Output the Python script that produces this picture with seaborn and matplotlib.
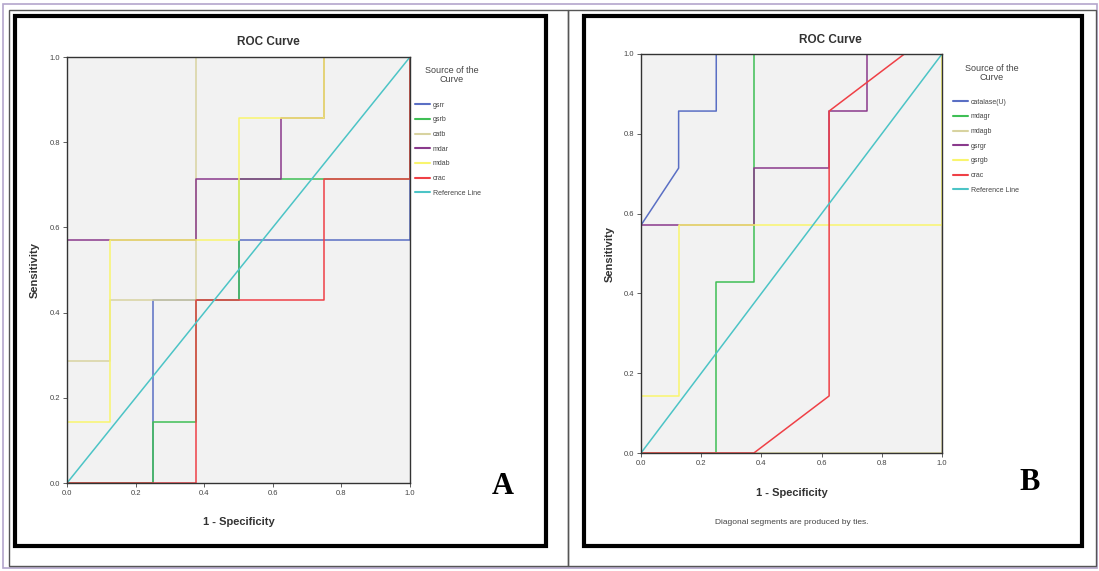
import numpy as np
import pandas as pd
import matplotlib
matplotlib.use("Agg")
import matplotlib.pyplot as plt
from matplotlib.patches import Rectangle
from matplotlib.lines import Line2D
import seaborn as sns

# Panel A: ROC curves (1 - specificity, sensitivity)
curves_a = ["gsrr", "gsrb", "catb", "mdar", "mdab", "crac"]
fpr_a = {
    "gsrr": [0, 0.25, 0.25, 0.5, 0.5, 1.0, 1.0],
    "gsrb": [0, 0.25, 0.25, 0.375, 0.375, 0.5, 0.5, 1.0, 1.0],
    "catb": [0, 0, 0.125, 0.125, 0.375, 0.375, 1.0],
    "mdar": [0, 0, 0.375, 0.375, 0.625, 0.625, 0.75, 0.75, 1.0],
    "mdab": [0, 0, 0.125, 0.125, 0.5, 0.5, 0.75, 0.75, 1.0],
    "crac": [0, 0.375, 0.375, 0.75, 0.75, 1.0, 1.0],
}
tpr_a = {
    "gsrr": [0, 0, 0.429, 0.429, 0.571, 0.571, 1.0],
    "gsrb": [0, 0, 0.143, 0.143, 0.429, 0.429, 0.714, 0.714, 1.0],
    "catb": [0, 0.286, 0.286, 0.429, 0.429, 1.0, 1.0],
    "mdar": [0, 0.571, 0.571, 0.714, 0.714, 0.857, 0.857, 1.0, 1.0],
    "mdab": [0, 0.143, 0.143, 0.571, 0.571, 0.857, 0.857, 1.0, 1.0],
    "crac": [0, 0, 0.429, 0.429, 0.714, 0.714, 1.0],
}

# Panel B
curves_b = ["catalase(U)", "mdagr", "mdagb", "gsrgr", "gsrgb", "crac"]
fpr_b = {
    "catalase(U)": [0, 0, 0.125, 0.125, 0.25, 0.25, 1.0],
    "mdagr": [0, 0.25, 0.25, 0.375, 0.375, 1.0],
    "mdagb": [0, 1.0, 1.0],
    "gsrgr": [0, 0, 0.375, 0.375, 0.625, 0.625, 0.75, 0.75, 1.0],
    "gsrgb": [0, 0, 0.125, 0.125, 1.0, 1.0],
    "crac": [0, 0.375, 0.625, 0.625, 0.875, 1.0],
}
tpr_b = {
    "catalase(U)": [0, 0.571, 0.714, 0.857, 0.857, 1.0, 1.0],
    "mdagr": [0, 0, 0.429, 0.429, 1.0, 1.0],
    "mdagb": [0, 0, 1.0],
    "gsrgr": [0, 0.571, 0.571, 0.714, 0.714, 0.857, 0.857, 1.0, 1.0],
    "gsrgb": [0, 0.143, 0.143, 0.571, 0.571, 1.0],
    "crac": [0, 0, 0.143, 0.857, 1.0, 1.0],
}

ref_name = "Reference Line"
ref_x = [0, 1]
ref_y = [0, 1]

spss_colors = ["#5a6fc4", "#3fbf55", "#d8d3a0", "#8a3a8c", "#f9f56e", "#ef4046", "#4cc4c6"]


def long_table(names, fpr, tpr):
    rows = []
    for n in names:
        for i, (x, y) in enumerate(zip(fpr[n], tpr[n])):
            rows.append((n, i, x, y))
    for i, (x, y) in enumerate(zip(ref_x, ref_y)):
        rows.append((ref_name, i, x, y))
    return pd.DataFrame(rows, columns=["curve", "order", "fpr", "tpr"])


sns.set_theme(style="white")
plt.rcParams["font.family"] = ["Liberation Sans", "DejaVu Sans"]

fig = plt.figure(figsize=(10.99, 5.71), dpi=100)
W, H = 1099, 571


def fig_rect(x0, y0, x1, y1, **kw):
    # pixel box (top-left origin) to figure rectangle
    fig.add_artist(Rectangle((x0 / W, 1 - y1 / H), (x1 - x0) / W, (y1 - y0) / H,
                             transform=fig.transFigure, fill=False, **kw))


# outer table lines
fig_rect(3, 4, 1097, 568, edgecolor="#b4a6cc", linewidth=1.2)
fig_rect(9, 10, 568, 566, edgecolor="#555555", linewidth=1.0)
fig_rect(568, 10, 1096, 566, edgecolor="#555555", linewidth=1.0)
fig_rect(15, 16, 546, 546, edgecolor="black", linewidth=3.0)
fig_rect(584, 16, 1082, 546, edgecolor="black", linewidth=3.0)


def draw_panel(box, names, fpr, tpr, title_x, title_y, leg_title_xy, legend_xy,
               xlabel_y, ylabel_x, letter, letter_xy):
    x0, y0, x1, y1 = box
    ax = fig.add_axes([x0 / W, 1 - y1 / H, (x1 - x0) / W, (y1 - y0) / H])
    df = long_table(names, fpr, tpr)
    order = names + [ref_name]
    sns.lineplot(data=df, x="fpr", y="tpr", hue="curve", hue_order=order,
                 palette=spss_colors, sort=False, estimator=None, units="curve",
                 linewidth=1.1, ax=ax, legend=False)
    ax.set_facecolor("#f2f2f2")
    ax.set_xlim(0, 1)
    ax.set_ylim(0, 1)
    ticks = [0.0, 0.2, 0.4, 0.6, 0.8, 1.0]
    ax.set_xticks(ticks)
    ax.set_yticks(ticks)
    ax.set_xticklabels([f"{t:.1f}" for t in ticks], fontsize=5.5, color="#444444")
    ax.set_yticklabels([f"{t:.1f}" for t in ticks], fontsize=5.5, color="#444444")
    ax.tick_params(length=3, width=0.6, pad=2, bottom=True, left=True, color="#444444")
    for s in ax.spines.values():
        s.set_color("#333333")
        s.set_linewidth(1.0)
    ax.set_xlabel("")
    ax.set_ylabel("")
    cx = (x0 + x1) / 2 / W
    fig.text(title_x / W, 1 - title_y / H, "ROC Curve", ha="center", va="center",
             fontsize=8.5, fontweight="bold", color="#333333")
    fig.text(cx, 1 - xlabel_y / H, "1 - Specificity", ha="center", va="center",
             fontsize=8, fontweight="bold", color="#333333")
    fig.text(ylabel_x / W, 1 - (y0 + y1) / 2 / H, "Sensitivity", ha="center", va="center",
             rotation=90, fontsize=8, fontweight="bold", color="#333333")
    fig.text(leg_title_xy[0] / W, 1 - leg_title_xy[1] / H, "Source of the\nCurve",
             ha="center", va="center", multialignment="center", fontsize=6.5,
             color="#444444", linespacing=1.1)
    handles = [Line2D([], [], color=c, linewidth=1.5) for c in spss_colors]
    leg = fig.legend(handles, order, loc="upper left",
                     bbox_to_anchor=(legend_xy[0] / W, 1 - legend_xy[1] / H),
                     frameon=False, fontsize=5, handlelength=2.2, handletextpad=0.4,
                     labelspacing=1.1, borderaxespad=0)
    for t in leg.get_texts():
        t.set_color("#444444")
    fig.text(letter_xy[0] / W, 1 - letter_xy[1] / H, letter, ha="center", va="center",
             fontsize=22, fontweight="bold", family="Liberation Serif", color="black")
    return ax


draw_panel((67, 57, 410, 483), curves_a, fpr_a, tpr_a, 268, 42, (452, 75), (412, 99),
           522, 35, "A", (503, 487))
draw_panel((641, 54, 942, 453), curves_b, fpr_b, tpr_b, 830, 40, (992, 73), (950, 96),
           493, 610, "B", (1030, 483))
fig.text(792 / W, 1 - 523 / H, "Diagonal segments are produced by ties.", ha="center",
         va="center", fontsize=6, color="#444444")

fig.savefig("out.png", dpi=100, facecolor="white")
